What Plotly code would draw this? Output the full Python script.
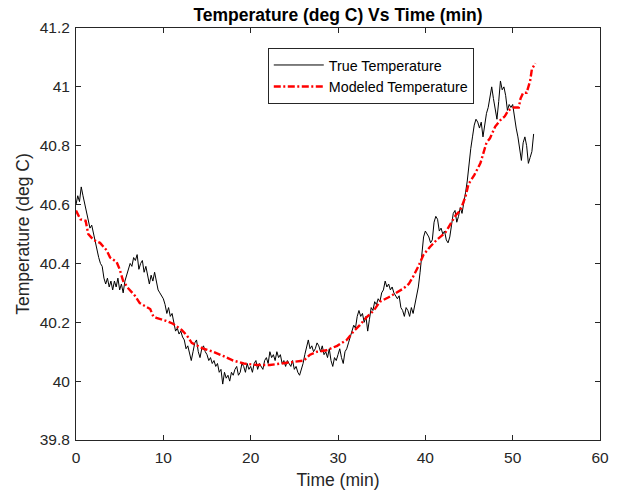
import numpy as np
import plotly.graph_objects as go

# True temperature sampled every 0.2 min starting at 0
true_temp = [
    40.60, 40.63, 40.61, 40.66, 40.63, 40.60, 40.58, 40.55, 40.52, 40.53,
    40.50, 40.47, 40.45, 40.42, 40.40, 40.39, 40.35, 40.33, 40.35, 40.32,
    40.34, 40.31, 40.34, 40.32, 40.35, 40.31, 40.33, 40.30, 40.34, 40.36,
    40.38, 40.40, 40.39, 40.42, 40.41, 40.43, 40.38, 40.40, 40.41, 40.37,
    40.39, 40.36, 40.33, 40.36, 40.34, 40.37, 40.34, 40.31, 40.30, 40.29,
    40.28, 40.26, 40.23, 40.25, 40.22, 40.23, 40.20, 40.17, 40.18, 40.16,
    40.17, 40.15, 40.14, 40.11, 40.12, 40.09, 40.07, 40.10, 40.13, 40.14,
    40.10, 40.08, 40.11, 40.12, 40.10, 40.09, 40.07, 40.08, 40.06, 40.07,
    40.05, 40.06, 40.03, 40.04, 39.99, 40.03, 40.01, 40.02, 40.00, 40.03,
    40.02, 40.04, 40.05, 40.02, 40.03, 40.06, 40.05, 40.03, 40.06, 40.04,
    40.05, 40.03, 40.06, 40.07, 40.04, 40.06, 40.05, 40.04, 40.07, 40.08,
    40.06, 40.10, 40.08, 40.09, 40.07, 40.10, 40.08, 40.09, 40.06, 40.07,
    40.05, 40.07, 40.06, 40.05, 40.07, 40.04, 40.05, 40.03, 40.02, 40.04,
    40.06, 40.09, 40.12, 40.14, 40.11, 40.12, 40.10, 40.11, 40.13, 40.12,
    40.10, 40.12, 40.09, 40.10, 40.08, 40.11, 40.07, 40.05, 40.08, 40.07,
    40.09, 40.11, 40.08, 40.06, 40.10, 40.11, 40.13, 40.15, 40.17, 40.19,
    40.18, 40.22, 40.24, 40.22, 40.23, 40.20, 40.22, 40.17, 40.21, 40.25,
    40.24, 40.27, 40.26, 40.28, 40.27, 40.30, 40.31, 40.34, 40.32, 40.33,
    40.31, 40.32, 40.30, 40.29, 40.28, 40.29, 40.25, 40.24, 40.22, 40.25,
    40.24, 40.22, 40.25, 40.23, 40.26, 40.28, 40.32, 40.37, 40.42, 40.49,
    40.51, 40.50, 40.49, 40.47, 40.48, 40.54, 40.56, 40.55, 40.51, 40.52,
    40.50, 40.51, 40.48, 40.47, 40.49, 40.53, 40.57, 40.58, 40.54, 40.56,
    40.59, 40.57, 40.60, 40.64, 40.68, 40.74, 40.79, 40.83, 40.87, 40.89,
    40.88, 40.86, 40.88, 40.83, 40.87, 40.91, 40.93, 40.97, 41.00, 40.96,
    40.93, 40.89, 40.95, 41.02, 40.99, 41.00, 40.97, 40.92, 40.94, 40.93,
    40.94, 40.89, 40.86, 40.83, 40.79, 40.75, 40.81, 40.83, 40.80, 40.74,
    40.76, 40.78, 40.84,
]
true_time = np.round(np.arange(len(true_temp)) * 0.2, 2)

model_time = [
    0, 0.5, 1.1, 1.4, 2.0, 2.75, 3.5, 3.9, 4.65, 5.0, 5.4, 6.0, 6.75, 7.3,
    8.5, 8.85, 9.2, 10.3, 11.1, 12.1, 12.7, 13.25, 14.6, 15.7, 16.9, 18.0,
    19.2, 20.7, 22.2, 23.75, 25.3, 26.1, 26.8, 27.6, 28.7, 29.9, 31.0, 31.8,
    32.5, 33.2, 34.1, 34.8, 35.8, 36.7, 37.5, 38.1, 38.6, 39.2, 39.8, 40.5,
    41.3, 42.3, 42.8, 43.5, 44.0, 44.6, 44.95, 45.6, 46.3, 46.65, 47.0, 47.4,
    48.0, 48.6, 49.1, 49.5, 50.1, 50.7, 50.9, 51.2, 51.6, 52.0, 52.2, 52.6,
]
model_temp = [
    40.58, 40.55, 40.545, 40.50, 40.48, 40.47, 40.445, 40.42, 40.405, 40.38,
    40.34, 40.315, 40.29, 40.265, 40.245, 40.22, 40.215, 40.205, 40.195,
    40.174, 40.155, 40.13, 40.11, 40.10, 40.085, 40.07, 40.06, 40.055, 40.055,
    40.06, 40.065, 40.07, 40.09, 40.10, 40.105, 40.12, 40.14, 40.17, 40.19,
    40.215, 40.24, 40.27, 40.285, 40.30, 40.315, 40.33, 40.355, 40.39, 40.43,
    40.455, 40.48, 40.505, 40.53, 40.565, 40.58, 40.627, 40.67, 40.70, 40.74,
    40.774, 40.81, 40.825, 40.865, 40.887, 40.90, 40.92, 40.93, 40.93, 40.96,
    40.98, 40.98, 41.02, 41.06, 41.08,
]

x_ticks = [0, 10, 20, 30, 40, 50, 60]
y_ticks = [39.8, 40, 40.2, 40.4, 40.6, 40.8, 41, 41.2]

font_family = "Liberation Sans, Arial, sans-serif"
txt = "#262626"

fig = go.Figure()
fig.add_trace(go.Scatter(
    x=true_time, y=true_temp, mode="lines", name="True Temperature",
    line=dict(color="black", width=1),
))
fig.add_trace(go.Scatter(
    x=model_time, y=model_temp, mode="lines", name="Modeled Temperature",
    line=dict(color="#ff0000", width=2.4, dash="7px,2.5px,2px,2.5px"),
))

axis_common = dict(
    showline=True, linecolor=txt, linewidth=1, mirror="ticks",
    ticks="inside", ticklen=5, tickcolor=txt, showgrid=False, zeroline=False,
    automargin=False,
    tickfont=dict(family=font_family, size=15.5, color=txt),
)

W, H = 621, 491

fig.update_layout(
    width=W, height=H,
    margin=dict(l=76, r=21, t=28, b=51),
    paper_bgcolor="white", plot_bgcolor="white",
    title=dict(
        text="<b>Temperature (deg C) Vs Time (min)</b>",
        xref="paper", x=0.5, xanchor="center",
        y=1 - 15 / H, yanchor="middle",
        font=dict(family=font_family, size=17.5, color="black"),
    ),
    xaxis=dict(
        range=[0, 60], tickvals=x_ticks, ticktext=[str(v) for v in x_ticks],
        ticklabelstandoff=3,
        title=dict(text="Time (min)", font=dict(family=font_family, size=17.5, color=txt), standoff=9),
        **axis_common,
    ),
    yaxis=dict(
        range=[39.8, 41.2], tickvals=y_ticks, ticktext=[f"{v:g}" for v in y_ticks],
        ticklabelstandoff=2,
        title=dict(text="Temperature (deg C)", font=dict(family=font_family, size=17.5, color=txt), standoff=5),
        **axis_common,
    ),
    legend=dict(
        x=0.366, y=0.951, xanchor="left", yanchor="top",
        bgcolor="white", bordercolor=txt, borderwidth=1,
        font=dict(family=font_family, size=14.3, color="black"),
        tracegroupgap=0, itemwidth=50,
    ),
    showlegend=True,
)

fig.write_html(
    "out.html",
    config={"displayModeBar": False},
    post_script="document.body.style.margin='0';",
)
